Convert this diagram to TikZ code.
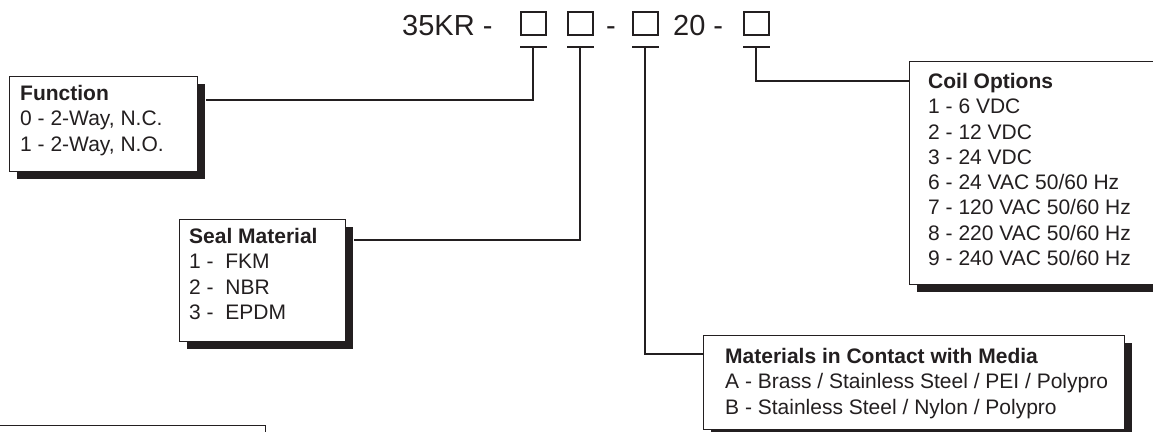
\documentclass[tikz,border=0pt]{standalone}
\usepackage{fontspec}
\setmainfont{Liberation Sans}
\usetikzlibrary{shadows,calc}
\definecolor{ink}{HTML}{231F20}
\begin{document}
\begin{tikzpicture}[x=1pt,y=-1pt,
  box/.style={draw=ink, line width=0.9pt, fill=white, inner sep=0pt, anchor=north west,
    drop shadow={shadow xshift=8pt, shadow yshift=-8pt, opacity=1, fill=ink}},
  sq/.style={draw=ink, line width=1.6pt, minimum width=25pt, minimum height=23pt, inner sep=0pt, anchor=south west},
  txt/.style={text=ink, inner sep=0pt, anchor=north west, align=left, font=\fontsize{21}{25.3}\selectfont},
  ttl/.style={text=ink, inner sep=0pt, font=\fontsize{29}{34}\selectfont},
  conn/.style={draw=ink, line width=2pt},
]
\useasboundingbox (0,0) rectangle (1153,431);
\clip (0,0) rectangle (1153,431);

% title
\node[ttl, anchor=base west] (t1) at (402,35.5) {35KR -};
\node[sq] (s1) at (520,36) {};
\node[sq] (s2) at (567,36) {};
\node[ttl, anchor=base] (t2) at (611,35.5) {-};
\node[sq] (s3) at (632,36) {};
\node[ttl, anchor=base west] (t3) at (673,35.5) {20 -};
\node[sq] (s4) at (743,36) {};

% boxes
\node[box, minimum width=188pt, minimum height=95pt] (fn) at (9,76) {};
\node[box, minimum width=166pt, minimum height=122pt] (sm) at (179,219) {};
\node[box, minimum width=300pt, minimum height=223pt] (co) at (909,61) {};
\node[box, minimum width=421pt, minimum height=94pt] (mm) at (703,335) {};
\node[box, minimum width=300pt, minimum height=100pt] (bl) at (-35,425) {};

% texts
\node[txt] (fnt) at ($(fn.north west)+(11,9)$) {\textbf{Function}\\0 - 2-Way, N.C.\\1 - 2-Way, N.O.};
\node[txt] (smt) at ($(sm.north west)+(10,9)$) {\textbf{Seal Material}\\1 - ~FKM\\2 - ~NBR\\3 - ~EPDM};
\node[txt] (cot) at ($(co.north west)+(19,12)$) {\textbf{Coil Options}\\1 - 6 VDC\\2 - 12 VDC\\3 - 24 VDC\\6 - 24 VAC 50/60 Hz\\7 - 120 VAC 50/60 Hz\\8 - 220 VAC 50/60 Hz\\9 - 240 VAC 50/60 Hz};
\node[txt] (mmt) at ($(mm.north west)+(22,13)$) {\textbf{Materials in Contact with Media}\\A - Brass / Stainless Steel / PEI / Polypro\\B - Stainless Steel / Nylon / Polypro};

% T bars
\foreach \s in {s1,s2,s3,s4}{
  \draw[conn] ($(\s.south west)+(0,11)$) -- ($(\s.south east)+(0,11)$);
}
% connectors
\draw[conn] ($(s1.south)+(0,11)$) |- ($(fn.north east)+(8,24)$);
\draw[conn] ($(s2.south)+(0,11)$) |- ($(sm.north east)+(8,21)$);
\draw[conn] ($(s3.south)+(0,11)$) |- ($(mm.north west)+(0,19)$);
\draw[conn] ($(s4.south)+(0,11)$) |- ($(co.north west)+(0,20)$);
\end{tikzpicture}
\end{document}
